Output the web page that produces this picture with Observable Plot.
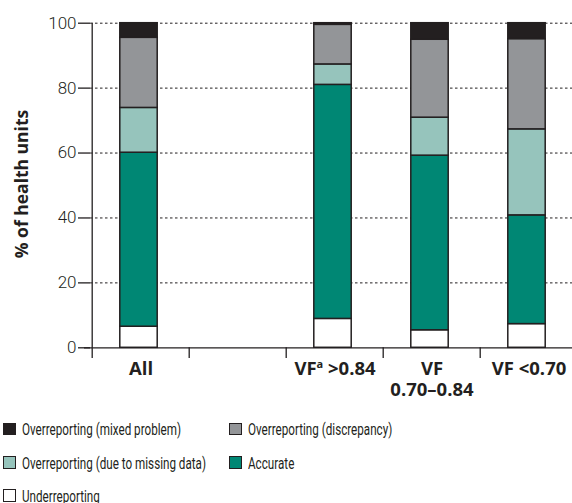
<!DOCTYPE html>
<html><head><meta charset="utf-8">
<script src="https://cdn.jsdelivr.net/npm/d3@7"></script>
<script src="https://cdn.jsdelivr.net/npm/@observablehq/plot@0.6"></script>
<style>
body{margin:0;background:#fff;}
#chart{position:relative;width:572px;height:503px;overflow:hidden;background:#fff;}
#chart svg{display:block;}
.leg{position:absolute;display:flex;align-items:center;height:18px;font-family:Roboto,"Open Sans",sans-serif;font-weight:400;font-size:17px;color:#231f20;white-space:nowrap;}
.sw{width:10.5px;height:10.5px;border:1.3px solid #231f20;margin-right:6.5px;box-sizing:content-box;flex:none;}
.lt{display:inline-block;transform-origin:0 50%;}
</style></head><body><div id="chart"></div>
<script>
// ---- data ----
const categories = ["All", " ", "VF >0.84", "VF\n0.70–0.84", "VF <0.70"];
const series = ["Underreporting", "Accurate", "Overreporting (due to missing data)", "Overreporting (discrepancy)", "Overreporting (mixed problem)"];
const underreporting = [6.5, null, 8.9, 5.4, 7.3];
const accurate       = [53.6, null, 72.1, 53.8, 33.5];
const missingData    = [13.8, null, 6.3, 11.7, 26.5];
const discrepancy    = [21.6, null, 12.2, 24.0, 27.8];
const mixedProblem   = [4.5, null, 0.5, 5.1, 4.9];
const colors = ["#ffffff", "#008774", "#96c4bc", "#939598", "#231f20"];
const yTicks = [0, 20, 40, 60, 80, 100];
const legendOrder = ["Overreporting (mixed problem)", "Overreporting (discrepancy)", "Overreporting (due to missing data)", "Accurate", "Underreporting"];

const valuesBySeries = [underreporting, accurate, missingData, discrepancy, mixedProblem];
const table = [];
categories.forEach((c, i) => {
  series.forEach((s, j) => {
    const v = valuesBySeries[j][i];
    if (v != null) table.push({category: c, series: s, value: v});
  });
});

// ---- layout ----
const W = 572, H = 410, left = 90, right = 578;
const step = (right - left) / categories.length;
const barW = 38;
const ink = "#231f20";
const inset = (step - barW) / 2;
const boldFont = "'Open Sans', sans-serif";

const plot = Plot.plot({
  width: W, height: H,
  marginTop: 22.7, marginBottom: 62.7, marginLeft: left, marginRight: 0,
  style: {fontFamily: "Roboto, 'Open Sans', sans-serif", color: ink, background: "white", overflow: "visible"},
  x: {domain: categories, range: [left, right], padding: 0},
  y: {domain: [0, 100]},
  color: {domain: series, range: colors},
  marks: [
    Plot.ruleY(yTicks.slice(1), {stroke: ink, strokeWidth: 1, strokeDasharray: "2.5,2.5"}),
    Plot.barY(table, {x: "category", y: "value", fill: "series", stroke: ink, strokeWidth: 1.5,
      insetLeft: inset - 2, insetRight: inset + 2, order: series}),
    Plot.ruleY([0], {stroke: ink, strokeWidth: 1.3, insetLeft: -6}),
    Plot.ruleX([categories[0]], {x: d => d, y1: 100, y2: 0, dx: -step / 2, insetBottom: -10.7, stroke: ink, strokeWidth: 1.3}),
    Plot.ruleX(categories.slice(1), {x: d => d, y1: 0, y2: 0, dx: -step / 2, insetBottom: -10.7, stroke: ink, strokeWidth: 1.3}),
    Plot.axisY({ticks: yTicks, tickSize: 12, tickPadding: 2, fontSize: 17, fontWeight: 300, label: null, stroke: ink, strokeWidth: 1.3}),
    Plot.axisX({tickSize: 0, tickPadding: 13, fontSize: 18.5, fontWeight: "bold", fontFamily: boldFont, lineHeight: 1.1, label: null}),
    Plot.text(["% of health units"], {frameAnchor: "left", rotate: -90, dx: -68.5, dy: -1.5, textAnchor: "middle",
      fontSize: 17.5, fontWeight: "bold", fontFamily: boldFont, fill: ink})
  ]
});

// superscript "a" in "VF >0.84"
d3.select(plot).selectAll("text").filter(function () { return this.textContent === "VF >0.84"; }).each(function () {
  const t = d3.select(this);
  t.text(null);
  t.append("tspan").text("VF");
  t.append("tspan").attr("font-size", "11px").attr("dy", "-7").text("a");
  t.append("tspan").attr("dy", "7").text(" >0.84");
});

const chart = document.getElementById("chart");
chart.appendChild(plot);

// ---- legend ----
const legPos = [
  {x: 3, cy: 429}, {x: 229, cy: 429},
  {x: 3, cy: 462.5}, {x: 229, cy: 462.5},
  {x: 3, cy: 495.5}
];
const texts = [];
legendOrder.forEach((s, k) => {
  const d = document.createElement("div");
  d.className = "leg";
  d.style.left = legPos[k].x + "px";
  d.style.top = (legPos[k].cy - 9) + "px";
  const sw = document.createElement("span");
  sw.className = "sw";
  sw.style.background = colors[series.indexOf(s)];
  const tx = document.createElement("span");
  tx.className = "lt";
  tx.textContent = s;
  d.appendChild(sw); d.appendChild(tx);
  chart.appendChild(d);
  texts.push(tx);
});
// condense legend text to match the narrow typeface of the original
const natural = texts[2].getBoundingClientRect().width;
const k = natural > 0 ? 184 / natural : 1;
texts.forEach(t => { t.style.transform = `scaleX(${k})`; });
</script></body></html>
